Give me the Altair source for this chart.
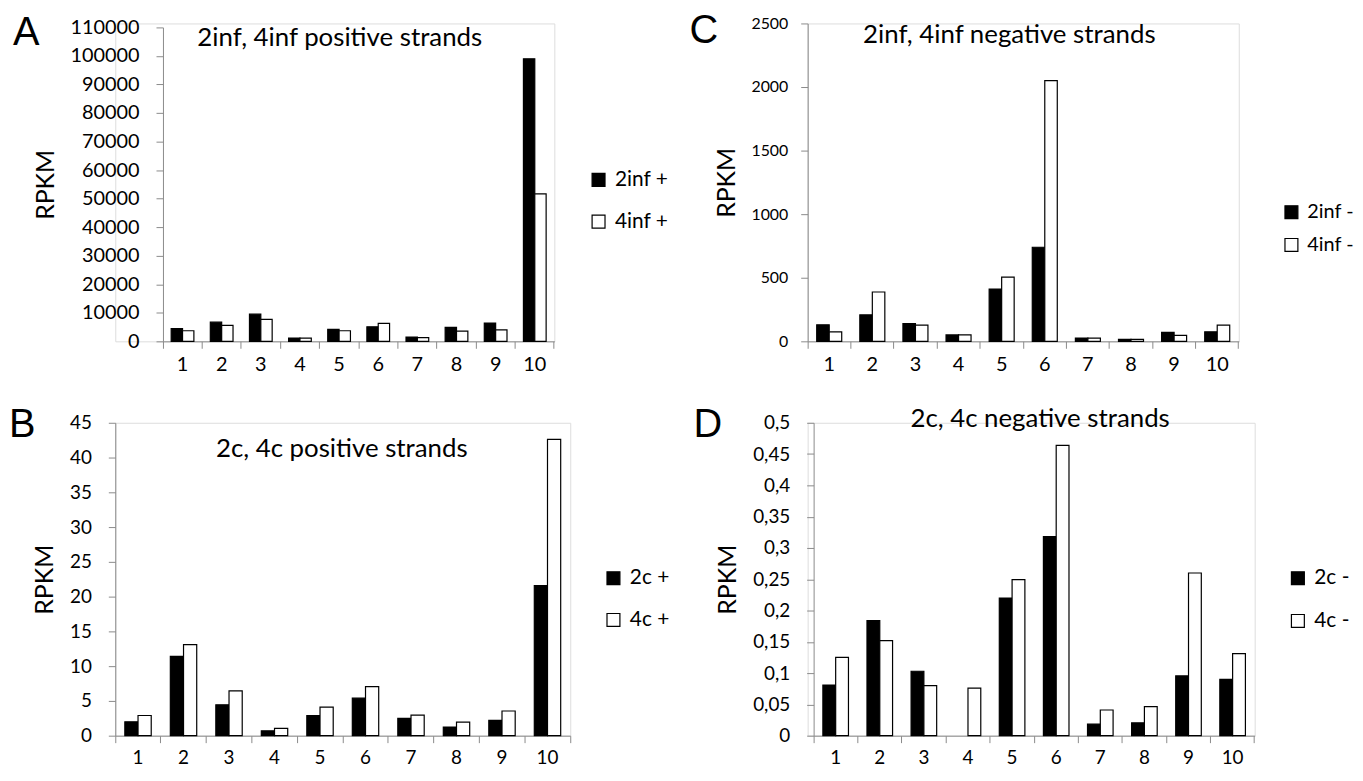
import altair as alt
import pandas as pd

FONT = "Lato"
AXIS_GRAY = "#8a8a8a"

categories = ["1", "2", "3", "4", "5", "6", "7", "8", "9", "10"]

# Panel A: 2inf, 4inf positive strands
a_series = ["2inf +", "4inf +"]
a_2inf_pos = [4500, 6700, 9500, 1150, 4200, 5100, 1500, 4900, 6400, 99000]
a_4inf_pos = [3700, 5600, 7700, 1100, 3700, 6300, 1300, 3600, 4000, 51700]
a_ticks = [0, 10000, 20000, 30000, 40000, 50000, 60000, 70000, 80000, 90000, 100000, 110000]

# Panel C: 2inf, 4inf negative strands
c_series = ["2inf -", "4inf -"]
c_2inf_neg = [130, 208, 140, 50, 411, 740, 26, 15, 70, 75]
c_4inf_neg = [75, 388, 128, 50, 505, 2050, 25, 15, 47, 128]
c_ticks = [0, 500, 1000, 1500, 2000, 2500]

# Panel B: 2c, 4c positive strands
b_series = ["2c +", "4c +"]
b_2c_pos = [2.0, 11.4, 4.45, 0.7, 2.9, 5.4, 2.5, 1.25, 2.2, 21.6]
b_4c_pos = [2.9, 13.1, 6.45, 1.05, 4.1, 7.05, 2.95, 1.95, 3.55, 42.6]
b_ticks = [0, 5, 10, 15, 20, 25, 30, 35, 40, 45]

# Panel D: 2c, 4c negative strands
d_series = ["2c -", "4c -"]
d_2c_neg = [0.081, 0.184, 0.103, 0.0, 0.22, 0.318, 0.0185, 0.0205, 0.0955, 0.09]
d_4c_neg = [0.125, 0.152, 0.08, 0.076, 0.2495, 0.464, 0.041, 0.0465, 0.26, 0.131]
d_ticks = [0, 0.05, 0.1, 0.15, 0.2, 0.25, 0.3, 0.35, 0.4, 0.45, 0.5]

titles = {
    "A": "2inf, 4inf positive strands",
    "B": "2c, 4c positive strands",
    "C": "2inf, 4inf negative strands",
    "D": "2c, 4c negative strands",
}


def panel(series, v1, v2, ticks, width, height, xr, yr, y_offset, ylab_size,
          xlab_size, xlab_pad, ylab_pad, letter, letter_xy, title_xy,
          legend_xy, legend_rowpad, legend_size=21, label_expr=None, fmt=None,
          anchor=None):
    df = pd.DataFrame({
        "cat": categories * 2,
        "series": [series[0]] * len(categories) + [series[1]] * len(categories),
        "value": v1 + v2,
    })
    yaxis_kw = dict(
        values=ticks, offset=y_offset, grid=False,
        domainColor=AXIS_GRAY, tickColor=AXIS_GRAY, tickSize=7,
        labelFont=FONT, labelFontSize=ylab_size, labelColor="black",
        labelPadding=ylab_pad,
        title="RPKM", titleFont=FONT, titleFontSize=25, titleFontWeight="normal",
        titleColor="black", titlePadding=12,
    )
    if label_expr:
        yaxis_kw["labelExpr"] = label_expr
    if fmt:
        yaxis_kw["format"] = fmt
    bars = alt.Chart(df).transform_filter("datum.value > 0").mark_bar(
        stroke="black", strokeWidth=1.2
    ).encode(
        x=alt.X("cat:N", sort=categories, title=None,
                scale=alt.Scale(range=xr, paddingInner=0, paddingOuter=0),
                axis=alt.Axis(bandPosition=1, tickExtra=True,
                              labelAngle=0, labelFont=FONT, labelFontSize=xlab_size,
                              labelColor="black", labelPadding=xlab_pad,
                              tickSize=7, tickColor=AXIS_GRAY,
                              domainColor=AXIS_GRAY, grid=False)),
        xOffset=alt.XOffset("series:N", sort=series,
                            scale=alt.Scale(paddingInner=0, paddingOuter=0.724)),
        y=alt.Y("value:Q",
                scale=alt.Scale(domain=[ticks[0], ticks[-1]], range=yr, nice=False, zero=True),
                axis=alt.Axis(**yaxis_kw)),
        color=alt.Color("series:N", sort=series,
                        scale=alt.Scale(domain=series, range=["#000000", "#ffffff"]),
                        legend=alt.Legend(orient="none", legendX=legend_xy[0],
                                          legendY=legend_xy[1], title=None,
                                          symbolType="square", symbolSize=169,
                                          symbolStrokeColor="black", symbolStrokeWidth=1.2,
                                          symbolOpacity=1, labelFont=FONT,
                                          labelFontSize=legend_size, labelColor="black",
                                          labelOffset=6, rowPadding=legend_rowpad,
                                          padding=0)),
    )
    letter_layer = alt.Chart(pd.DataFrame({"t": [letter]})).mark_text(
        font="Liberation Sans", fontSize=40, align="left", baseline="top", color="black"
    ).encode(text="t:N", x=alt.value(letter_xy[0]), y=alt.value(letter_xy[1]))
    title_layer = alt.Chart(pd.DataFrame({"t": [titles[letter]]})).mark_text(
        font=FONT, fontSize=26, align="center", baseline="middle", color="black"
    ).encode(text="t:N", x=alt.value(title_xy[0]), y=alt.value(title_xy[1]))
    layers = [bars, letter_layer, title_layer]
    if anchor is not None:
        layers.append(
            alt.Chart(pd.DataFrame({"a": [0]})).mark_rule(color="white", strokeWidth=1).encode(
                x=alt.value(anchor[0]), x2=alt.value(anchor[0] + 1),
                y=alt.value(anchor[1]), y2=alt.value(anchor[1] + 1))
        )
    return alt.layer(*layers).properties(width=width, height=height)


pA = panel(a_series, a_2inf_pos, a_4inf_pos, a_ticks, 442, 320, [48, 442], [320, 4], -48,
           20, 20, 6, 17, "A", (-103, -10), (226, 15), (476, 147), 20,
           fmt="d", anchor=(-107, -12))
pC = panel(c_series, c_2inf_neg, c_4inf_neg, c_ticks, 434, 320, [0, 434], [320, 0], 0,
           16, 20, 6, 13, "C", (-119, -12), (203, 12), (477, 180), 13, legend_size=20, fmt="d")
pB = panel(b_series, b_2c_pos, b_4c_pos, b_ticks, 458, 315, [0, 458], [315, 0], 0,
           19, 19, 6, 17, "B", (-107, -18), (228, 26), (491, 146), 20, fmt="d")
pD = panel(d_series, d_2c_neg, d_4c_neg, d_ticks, 450, 315, [6, 450], [315, 0], -6,
           19, 19, 6, 17, "D", (-115, -18), (234, -4), (483, 146), 21,
           label_expr="replace(format(datum.value, '~g'), '.', ',')")

chart = alt.concat(
    pA, pC, pB, pD, columns=2, spacing={"row": 82, "column": 239}, bounds="flush"
).resolve_scale(
    x="independent", y="independent", color="independent", xOffset="independent"
).properties(padding=0).configure_view(stroke=None).configure(font=FONT)

chart.save("out.html", embed_options={"renderer": "svg", "actions": False})
